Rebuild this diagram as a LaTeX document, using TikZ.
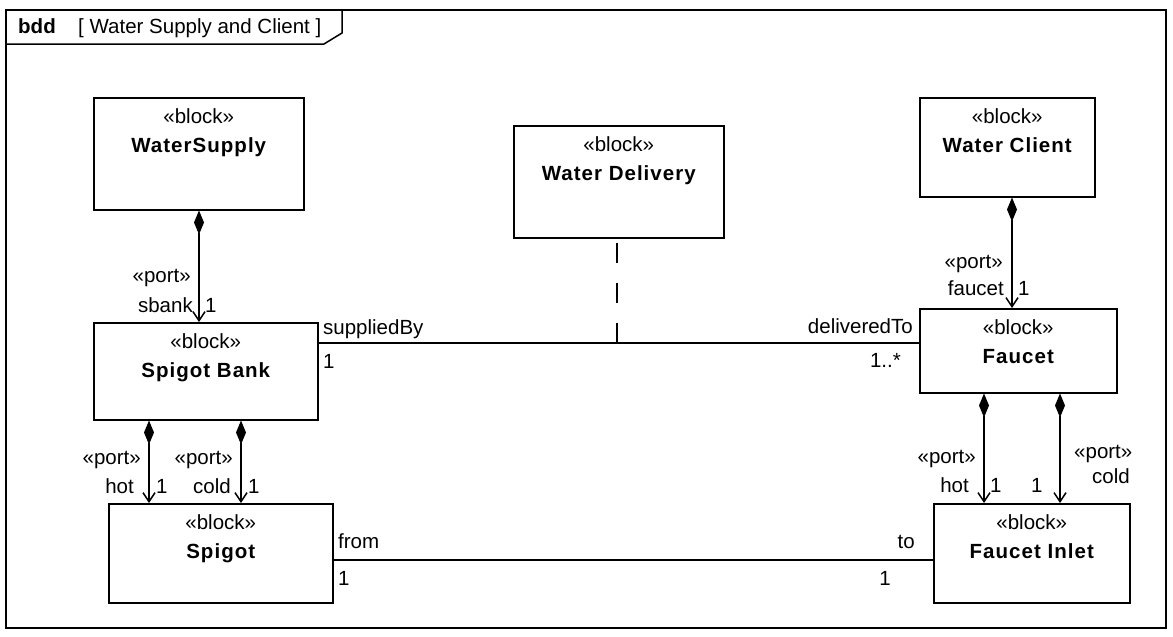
\documentclass[tikz,border=0pt]{standalone}
\usepackage{fontspec}
\setmainfont{Liberation Sans}
\newfontfamily\blkfont{Liberation Sans}[LetterSpace=5]
\usetikzlibrary{arrows.meta,calc}
\tikzset{
  blk/.style={draw, line width=1.5pt, rectangle, inner sep=0pt, anchor=north west},
  txt/.style={inner sep=0pt, font=\fontsize{20.5}{24}\selectfont, text height=14, text depth=4},
  nm/.style={inner sep=0pt, font=\fontsize{20.5}{24}\selectfont\blkfont\bfseries, text height=15, text depth=4},
  comp/.style={line width=1.5pt, {Diamond[length=24pt,width=10pt]}-{Straight Barb[length=9pt,width=12pt,line width=1.5pt]}},
  assoc/.style={line width=1.5pt},
  dep/.style={line width=1.5pt, dash pattern=on 20pt off 20pt},
  frm/.style={line width=1.5pt}
}
\newcommand{\mkblock}[6]{%
  \node[blk, minimum width=#4-#2, minimum height=#5-#3] (#1) at (#2,#3) {};
  \node[txt] (#1-st) at ($(#1.north)+(0,21)$) {«block»};
  \node[nm] (#1-nm) at ($(#1.north)+(0,50)$) {#6};
}
\begin{document}
\begin{tikzpicture}[x=1pt,y=-1pt]
\useasboundingbox (0,0) rectangle (1173,637);
\fill[white] (0,0) rectangle (1173,637);
% frame
\draw[frm] (6,10) rectangle (1166,628);
\draw[frm] (6,44) -- (324,44) -- (342,33) -- (342,10);
\node[txt, anchor=west, font=\fontsize{20.5}{24}\selectfont\bfseries] (kind) at (18,28) {bdd};
\node[txt, anchor=west] (title) at (78,28) {[ Water Supply and Client ]};
% blocks
\mkblock{ws}{93}{97}{303}{209}{WaterSupply}
\mkblock{wd}{513}{125}{723}{237}{Water Delivery}
\mkblock{wc}{919}{97}{1094}{196}{Water Client}
\mkblock{sb}{93}{322}{317}{419}{Spigot Bank}
\mkblock{fa}{919}{308}{1116}{392}{Faucet}
\mkblock{sp}{108}{503}{332}{602}{Spigot}
\mkblock{fi}{933}{503}{1129}{602}{Faucet Inlet}
% compositions
\draw[comp] (199,0 |- ws.south) -- (199,0 |- sb.north);
\draw[comp] (149,0 |- sb.south) -- (149,0 |- sp.north);
\draw[comp] (241,0 |- sb.south) -- (241,0 |- sp.north);
\draw[comp] (1012,0 |- wc.south) -- (1012,0 |- fa.north);
\draw[comp] (984,0 |- fa.south) -- (984,0 |- fi.north);
\draw[comp] (1060,0 |- fa.south) -- (1060,0 |- fi.north);
% associations
\draw[assoc] (sb.east |- 0,343) -- (fa.west |- 0,343);
\coordinate (mid) at (617,343);
\draw[dep] (mid) -- (617,0 |- wd.south);
\draw[assoc] (sp.east |- 0,560) -- (fi.west |- 0,560);
% labels: WaterSupply - Spigot Bank
\node[txt, anchor=east] (l1) at (191,277) {«port»};
\node[txt, anchor=east] (l2) at (193,307) {sbank};
\node[txt, anchor=west] (l3) at (205,307) {1};
% Spigot Bank - Spigot
\node[txt, anchor=east] (l4) at (141,459) {«port»};
\node[txt, anchor=east] (l5) at (134,488) {hot};
\node[txt, anchor=west] (l6) at (156,488) {1};
\node[txt, anchor=east] (l7) at (233,459) {«port»};
\node[txt, anchor=east] (l8) at (231,488) {cold};
\node[txt, anchor=west] (l9) at (248,488) {1};
% Water Client - Faucet
\node[txt, anchor=east] (l10) at (1003,263) {«port»};
\node[txt, anchor=east] (l11) at (1004,290) {faucet};
\node[txt, anchor=west] (l12) at (1018,290) {1};
% Faucet - Faucet Inlet
\node[txt, anchor=east] (l13) at (976,458) {«port»};
\node[txt, anchor=east] (l14) at (969,487) {hot};
\node[txt, anchor=west] (l15) at (990,487) {1};
\node[txt, anchor=west] (l16) at (1031,487) {1};
\node[txt, anchor=west] (l17) at (1074,453) {«port»};
\node[txt, anchor=west] (l18) at (1092,478) {cold};
% association ends
\node[txt, anchor=west] (l19) at (323,329) {suppliedBy};
\node[txt, anchor=west] (l20) at (323,363) {1};
\node[txt, anchor=east] (l21) at (913,328) {deliveredTo};
\node[txt, anchor=east] (l22) at (901,362) {1..*};
\node[txt, anchor=west] (l23) at (338,543) {from};
\node[txt, anchor=west] (l24) at (338,580) {1};
\node[txt, anchor=east] (l25) at (915,543) {to};
\node[txt, anchor=east] (l26) at (891,580) {1};
\end{tikzpicture}
\end{document}
